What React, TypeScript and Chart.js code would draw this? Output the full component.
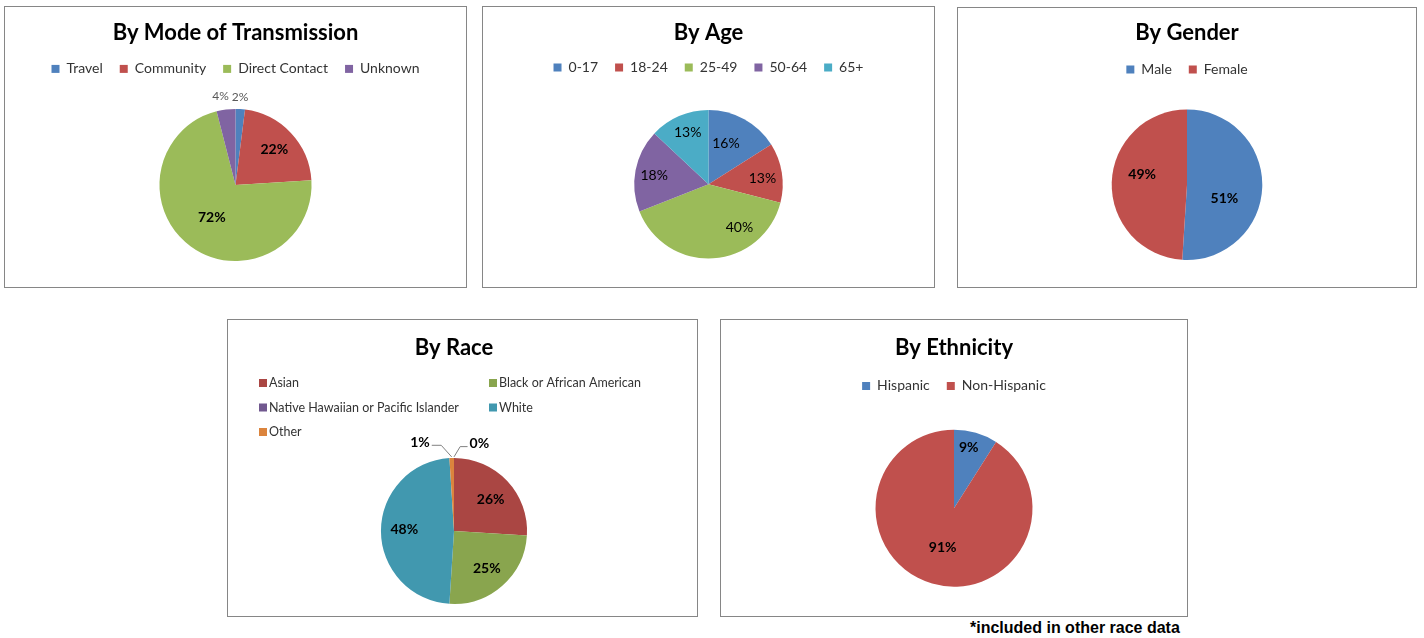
import React, { useEffect, useRef } from 'react';
import { Chart, registerables } from 'chart.js';

Chart.register(...registerables);

const FONT = 'Lato, "Open Sans", sans-serif';

// ---------- data ----------
const modeCategories = ['Travel', 'Community', 'Direct Contact', 'Unknown'];
const modeValues = [2, 22, 72, 4];

const ageCategories = ['0-17', '18-24', '25-49', '50-64', '65+'];
const ageValues = [16, 13, 40, 18, 13];

const genderCategories = ['Male', 'Female'];
const genderValues = [51, 49];

const raceCategories = ['Asian', 'Black or African American', 'Native Hawaiian or Pacific Islander', 'White', 'Other'];
const raceValues = [26, 25, 0, 48, 1];
// order in which the slices are laid clockwise from 12 o'clock (indices into raceCategories)
const raceSliceOrder = [2, 0, 1, 3, 4];

const ethnicityCategories = ['Hispanic', 'Non-Hispanic'];
const ethnicityValues = [9, 91];

const footnote = '*included in other race data';

// ---------- colours ----------
const BLUE = '#4F81BD';
const RED = '#C0504D';
const GREEN = '#9BBB59';
const PURPLE = '#8064A2';
const AQUA = '#4BACC6';
const raceColors = ['#AA4643', '#89A54E', '#71588F', '#4198AF', '#DB843D'];

type Spec = { t: number; k: number; shift?: number; leader?: boolean; size?: number; weight?: string; color?: string };

function sliceLabels(specs: Spec[]) {
  return {
    id: 'sliceLabels',
    afterDatasetsDraw(chart: any) {
      const ctx = chart.ctx;
      const meta = chart.getDatasetMeta(0);
      const values = chart.data.datasets[0].data as number[];
      const total = values.reduce((a, b) => a + b, 0);
      meta.data.forEach((el: any, i: number) => {
        const s = specs[i];
        if (!s) return;
        const p = el.getProps(['x', 'y', 'startAngle', 'endAngle', 'outerRadius'], true);
        const a = p.startAngle + (p.endAngle - p.startAngle) * s.t + ((s.shift || 0) * Math.PI) / 180;
        const lx = p.x + Math.cos(a) * p.outerRadius * s.k;
        const ly = p.y + Math.sin(a) * p.outerRadius * s.k;
        const text = Math.round((values[i] / total) * 100) + '%';
        ctx.save();
        ctx.font = `${s.weight || 'bold'} ${s.size || 14}px ${FONT}`;
        ctx.fillStyle = s.color || '#000';
        ctx.textAlign = 'center';
        ctx.textBaseline = 'middle';
        ctx.fillText(text, lx, ly);
        if (s.leader) {
          const m = (p.startAngle + p.endAngle) / 2;
          const ex = p.x + Math.cos(m) * p.outerRadius;
          const ey = p.y + Math.sin(m) * p.outerRadius - 1;
          const w = ctx.measureText(text).width;
          const yLine = ly + 3;
          const leftSide = lx < ex;
          const edge = leftSide ? lx + w / 2 + 2 : lx - w / 2 - 2;
          const elbow = leftSide ? ex - (ey - yLine) * 0.9 : ex + (ey - yLine) * 0.6;
          ctx.strokeStyle = '#808080';
          ctx.lineWidth = 1;
          ctx.beginPath();
          ctx.moveTo(edge, yLine);
          ctx.lineTo(elbow, yLine);
          ctx.lineTo(ex, ey);
          ctx.stroke();
        }
        ctx.restore();
      });
    },
  };
}

function legendGap(extra: number) {
  return {
    id: 'legendGap',
    beforeInit(chart: any) {
      const legend = chart.legend;
      if (!legend) return;
      const fit = legend.fit;
      legend.fit = function () {
        fit.call(this);
        this.height += extra;
      };
    },
  };
}

function gridLegend(labels: string[], colors: string[]) {
  return {
    id: 'gridLegend',
    afterDraw(chart: any) {
      const ctx = chart.ctx;
      ctx.save();
      ctx.font = `12.5px ${FONT}`;
      ctx.textBaseline = 'middle';
      ctx.textAlign = 'left';
      labels.forEach((lab, i) => {
        const col = i % 2;
        const row = Math.floor(i / 2);
        const x = 31 + col * 230;
        const y = 63 + row * 24.5;
        ctx.fillStyle = colors[i];
        ctx.fillRect(x, y - 4, 8, 8);
        ctx.fillStyle = '#333';
        ctx.fillText(lab, x + 10, y);
      });
      ctx.restore();
    },
  };
}

type Build = {
  labels: string[];
  values: number[];
  colors: string[];
  title: string;
  titleTop: number;
  titleBottom: number;
  legend: boolean;
  extra: number;
  padBottom: number;
  padRight?: number;
  specs: Spec[];
  extraPlugins?: any[];
};

function makeConfig(b: Build): any {
  return {
    type: 'pie',
    data: {
      labels: b.labels,
      datasets: [{ data: b.values, backgroundColor: b.colors, borderWidth: 0 }],
    },
    options: {
      responsive: false,
      animation: false,
      layout: { padding: { top: 0, left: 0, right: b.padRight || 0, bottom: b.padBottom } },
      plugins: {
        title: {
          display: true,
          text: b.title,
          color: '#000',
          font: { family: FONT, size: 22, weight: 'bold' },
          padding: { top: b.titleTop, bottom: b.titleBottom },
        },
        legend: {
          display: b.legend,
          position: 'top',
          labels: {
            font: { family: FONT, size: 14 },
            color: '#333',
            boxWidth: 8,
            boxHeight: 8,
            padding: 17,
          },
        },
        tooltip: { enabled: false },
      },
    },
    plugins: [legendGap(b.extra), sliceLabels(b.specs), ...(b.extraPlugins || [])],
  };
}

type Box = { x: number; y: number; w: number; h: number };

function PieBox({ box, build }: { box: Box; build: () => any }) {
  const ref = useRef<HTMLCanvasElement | null>(null);
  useEffect(() => {
    if (!ref.current) return;
    const chart = new Chart(ref.current, build());
    return () => chart.destroy();
  }, []);
  return (
    <div
      style={{
        position: 'absolute',
        left: box.x,
        top: box.y,
        width: box.w,
        height: box.h,
        border: '1px solid #868686',
        boxSizing: 'border-box',
        background: '#fff',
      }}
    >
      <canvas ref={ref} width={box.w - 2} height={box.h - 2} style={{ display: 'block' }} />
    </div>
  );
}

const smallOut: Partial<Spec> = { size: 12, weight: 'normal', color: '#595959' };

export default function App() {
  const raceDrawLabels = raceSliceOrder.map((i) => raceCategories[i]);
  const raceDrawValues = raceSliceOrder.map((i) => raceValues[i]);
  const raceDrawColors = raceSliceOrder.map((i) => raceColors[i]);

  return (
    <div style={{ position: 'fixed', left: 0, top: 0, width: 1424, height: 638, background: '#fff', overflow: 'hidden' }}>
      <PieBox
        box={{ x: 4, y: 6, w: 463, h: 282 }}
        build={() =>
          makeConfig({
            labels: modeCategories,
            values: modeValues,
            colors: [BLUE, RED, GREEN, PURPLE],
            title: 'By Mode of Transmission',
            titleTop: 12.5,
            titleBottom: -1,
            legend: true,
            extra: 23,
            padBottom: 26,
            specs: [
              { t: 0.42, k: 1.15, ...smallOut },
              { t: 0.51, k: 0.69 },
              { t: 0.5, k: 0.53 },
              { t: 0.33, k: 1.18, ...smallOut },
            ],
          })
        }
      />
      <PieBox
        box={{ x: 482, y: 6, w: 453, h: 282 }}
        build={() =>
          makeConfig({
            labels: ageCategories,
            values: ageValues,
            colors: [BLUE, RED, GREEN, PURPLE, AQUA],
            title: 'By Age',
            titleTop: 12.5,
            titleBottom: -2.5,
            legend: true,
            extra: 25.6,
            padBottom: 28.5,
            specs: [
              { t: 0.4, k: 0.6, weight: 'normal' },
              { t: 0.56, k: 0.73, weight: 'normal' },
              { t: 0.28, k: 0.72, weight: 'normal' },
              { t: 0.47, k: 0.74, weight: 'normal' },
              { t: 0.53, k: 0.75, weight: 'normal' },
            ],
          })
        }
      />
      <PieBox
        box={{ x: 957, y: 7, w: 460, h: 281 }}
        build={() =>
          makeConfig({
            labels: genderCategories,
            values: genderValues,
            colors: [BLUE, RED],
            title: 'By Gender',
            titleTop: 12,
            titleBottom: -1,
            legend: true,
            extra: 23,
            padBottom: 27,
            specs: [
              { t: 0.6, k: 0.53 },
              { t: 0.56, k: 0.61 },
            ],
          })
        }
      />
      <PieBox
        box={{ x: 227, y: 319, w: 471, h: 298 }}
        build={() =>
          makeConfig({
            labels: raceDrawLabels,
            values: raceDrawValues,
            colors: raceDrawColors,
            title: 'By Race',
            titleTop: 15,
            titleBottom: 96.5,
            legend: false,
            extra: 0,
            padBottom: 12,
            padRight: 17,
            specs: [
              { t: 0.5, k: 1.245, shift: 16.2, leader: true },
              { t: 0.53, k: 0.66 },
              { t: 0.5, k: 0.68 },
              { t: 0.51, k: 0.68 },
              { t: 0.5, k: 1.3, shift: -19.2, leader: true },
            ],
            extraPlugins: [gridLegend(raceCategories, raceColors)],
          })
        }
      />
      <PieBox
        box={{ x: 720, y: 319, w: 468, h: 298 }}
        build={() =>
          makeConfig({
            labels: ethnicityCategories,
            values: ethnicityValues,
            colors: [BLUE, RED],
            title: 'By Ethnicity',
            titleTop: 15,
            titleBottom: 0.5,
            legend: true,
            extra: 26.8,
            padBottom: 29.3,
            specs: [
              { t: 0.42, k: 0.8 },
              { t: 0.5, k: 0.52 },
            ],
          })
        }
      />
      <div
        style={{
          position: 'absolute',
          left: 970,
          top: 619,
          fontFamily: '"Liberation Sans", Arial, sans-serif',
          fontWeight: 'bold',
          fontSize: 16,
          lineHeight: '18px',
          color: '#000',
          whiteSpace: 'nowrap',
        }}
      >
        {footnote}
      </div>
    </div>
  );
}
